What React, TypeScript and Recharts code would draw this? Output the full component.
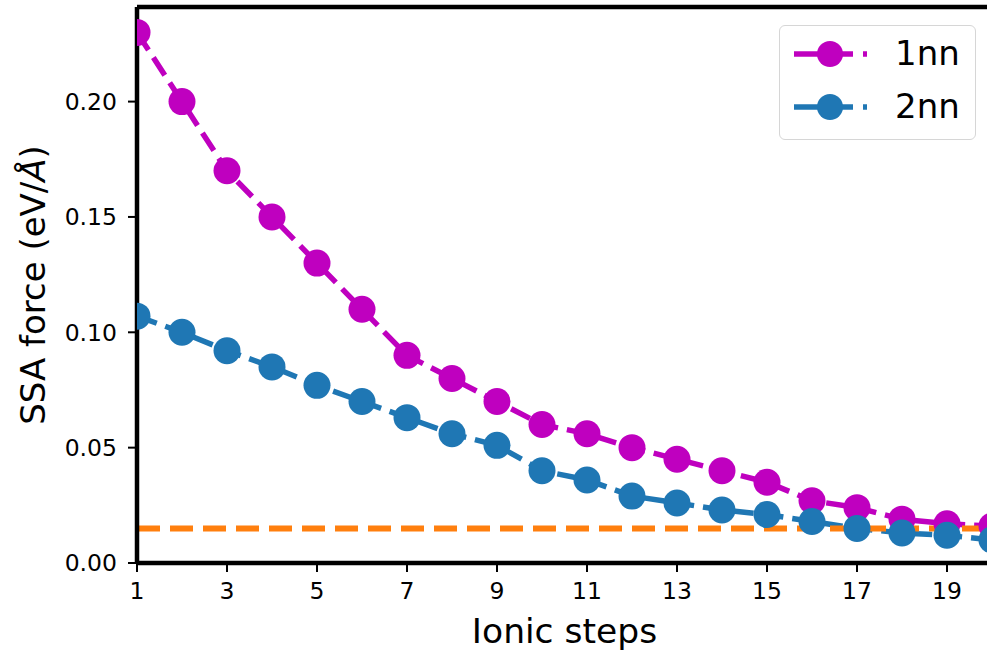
import React from 'react';
import { LineChart, Line, XAxis, YAxis, ReferenceLine, Legend } from 'recharts';

const steps = [1, 2, 3, 4, 5, 6, 7, 8, 9, 10, 11, 12, 13, 14, 15, 16, 17, 18, 19, 20];
const nn1 = [0.230, 0.200, 0.170, 0.150, 0.130, 0.110, 0.090, 0.080, 0.070, 0.060, 0.056, 0.050, 0.045, 0.040, 0.035, 0.027, 0.024, 0.019, 0.017, 0.016];
const nn2 = [0.107, 0.100, 0.092, 0.085, 0.077, 0.070, 0.063, 0.056, 0.051, 0.040, 0.036, 0.029, 0.026, 0.023, 0.021, 0.018, 0.015, 0.013, 0.012, 0.010];
const threshold = 0.015;
const xTicks = [1, 3, 5, 7, 9, 11, 13, 15, 17, 19];
const yTicks = [0, 0.05, 0.1, 0.15, 0.2];
const yMax = 0.241;
const seriesNames = ['1nn', '2nn'];
const seriesColors = ['#bf00bf', '#1f77b4'];

const data = steps.map((s, i) => ({ step: s, a: nn1[i], b: nn2[i] }));

const FONT = '"DejaVu Sans", sans-serif';

const LegendBox = () => (
  <div
    style={{
      width: 197,
      height: 115,
      border: '1.5px solid #d6d6d6',
      borderRadius: 6,
      background: 'rgba(255,255,255,0.8)',
      boxSizing: 'border-box',
      position: 'relative',
      fontFamily: FONT,
    }}
  >
    {seriesNames.map((name, i) => (
      <div key={name} style={{ position: 'absolute', left: 0, top: 14 + i * 53, height: 28, width: 195 }}>
        <svg width={90} height={28} style={{ position: 'absolute', left: 12, top: 0 }}>
          <line x1={2} y1={14} x2={61} y2={14} stroke={seriesColors[i]} strokeWidth={5.5} />
          <line x1={71} y1={14} x2={75} y2={14} stroke={seriesColors[i]} strokeWidth={5.5} />
          <circle cx={38} cy={14} r={13} fill={seriesColors[i]} />
        </svg>
        <span
          style={{
            position: 'absolute',
            left: 115,
            top: -7,
            fontSize: 34,
            lineHeight: '40px',
            color: '#000',
          }}
        >
          {name}
        </span>
      </div>
    ))}
  </div>
);

export default function App() {
  return (
    <div style={{ position: 'fixed', left: 0, top: 0, width: 987, height: 652, overflow: 'hidden', background: '#fff' }}>
      <LineChart
        width={1000}
        height={652}
        data={data}
        margin={{ top: 7, right: 8, left: 0, bottom: 0 }}
        style={{ fontFamily: FONT }}
      >
        <XAxis
          dataKey="step"
          type="number"
          domain={[1, 20]}
          ticks={xTicks}
          allowDataOverflow
          height={89}
          axisLine={{ stroke: '#000', strokeWidth: 4.5 }}
          tickLine={{ stroke: '#000', strokeWidth: 2 }}
          tickSize={9}
          tickMargin={10}
          tick={{ fill: '#000', fontSize: 23.5, fontFamily: FONT }}
          label={{
            content: () => (
              <text x={564.5} y={643} textAnchor="middle" fontSize={34.5} fontFamily={FONT} fill="#000">
                Ionic steps
              </text>
            ),
          }}
        />
        <YAxis
          type="number"
          domain={[0, yMax]}
          ticks={yTicks}
          allowDataOverflow
          width={137}
          axisLine={{ stroke: '#000', strokeWidth: 4.5 }}
          tickLine={{ stroke: '#000', strokeWidth: 2 }}
          tickSize={9}
          tickMargin={11}
          tickFormatter={(v: number) => v.toFixed(2)}
          tick={{ fill: '#000', fontSize: 23.5, fontFamily: FONT }}
          label={{
            content: () => (
              <text
                transform="translate(45, 285) rotate(-90)"
                x={0}
                y={0}
                textAnchor="middle"
                fontSize={34}
                fontFamily={FONT}
                fill="#000"
              >
                SSA force (eV/<tspan fontStyle="italic">Å</tspan>)
              </text>
            ),
          }}
        />
        <Legend
          layout="horizontal"
          verticalAlign="middle"
          align="center"
          content={() => <LegendBox />}
          wrapperStyle={{ position: 'absolute', left: 779, top: 25, width: 197, height: 115 }}
        />
        <Line
          dataKey="a"
          name={seriesNames[0]}
          stroke={seriesColors[0]}
          strokeWidth={5.5}
          strokeDasharray="21 9"
          dot={{ r: 13.5, fill: seriesColors[0], stroke: 'none', strokeDasharray: '' }}
          activeDot={false}
          isAnimationActive={false}
        />
        <Line
          dataKey="b"
          name={seriesNames[1]}
          stroke={seriesColors[1]}
          strokeWidth={5.5}
          strokeDasharray="21 9"
          dot={{ r: 13.5, fill: seriesColors[1], stroke: 'none', strokeDasharray: '' }}
          activeDot={false}
          isAnimationActive={false}
        />
        <ReferenceLine y={threshold} stroke="#ff7f0e" strokeWidth={6} strokeDasharray="23 10" />
        <ReferenceLine y={yMax} stroke="#000" strokeWidth={4.5} />
      </LineChart>
    </div>
  );
}
